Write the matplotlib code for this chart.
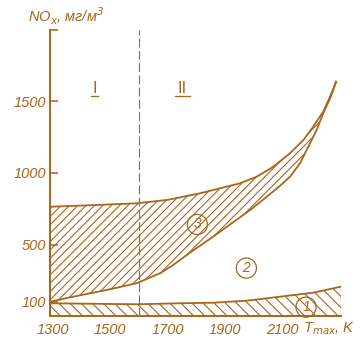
import numpy as np
import matplotlib
matplotlib.use("Agg")
import matplotlib.pyplot as plt

# colour of the printed drawing
brown = "#A8651C"
fonts = ["Liberation Sans Narrow", "Liberation Sans", "DejaVu Sans"]
plt.rcParams["font.family"] = fonts
plt.rcParams["font.style"] = "italic"
plt.rcParams["mathtext.default"] = "it"
plt.rcParams["hatch.linewidth"] = 0.8

# curve 3: upper and lower border (T, K -> NOx, mg/m3)
t_up = [1290, 1450, 1592, 1700, 1813, 1883, 1953, 2011, 2069, 2127, 2174, 2208, 2243, 2267, 2288]
v_up = [764, 776, 788, 812, 858, 893, 928, 974, 1044, 1138, 1231, 1324, 1429, 1534, 1638]
t_low = [1290, 1371, 1488, 1592, 1674, 1720, 1767, 1867, 1994, 2046, 2092, 2127, 2162, 2197, 2220, 2243, 2267, 2288]
v_low = [100, 135, 182, 229, 299, 357, 427, 566, 750, 834, 910, 974, 1068, 1208, 1301, 1417, 1522, 1638]

# band 1: upper border
t_band = [1290, 1592, 1743, 1860, 1976, 2092, 2208, 2305]
v_band = [89, 82, 89, 93, 107, 135, 163, 205]

t_split = 1600
yticks = [100, 500, 1000, 1500, 2000]
ytick_labels = ["100", "500", "1000", "1500", ""]
xticks = [1300, 1500, 1700, 1900, 2100]

zones = ["I", "II"]
zone_t = [1445, 1752]
zone_v = 1558

circ_labels = ["1", "2", "3"]
circ_t = [2183, 1975, 1804]
circ_v = [62, 335, 640]

fig = plt.figure(figsize=(3.64, 3.53), dpi=100)
ax = fig.add_axes([50 / 364, 37 / 353, 291 / 364, 286 / 353])

# hatched areas
ax.fill(np.concatenate([t_up, t_low[::-1]]), np.concatenate([v_up, v_low[::-1]]),
        facecolor="none", edgecolor=brown, hatch="////", lw=0)
ax.fill_between(t_band, 0, v_band, facecolor="none", edgecolor=brown, hatch="\\\\\\", lw=0)

ax.plot(t_up, v_up, color=brown, lw=1.3)
ax.plot(t_low, v_low, color=brown, lw=1.3)
ax.plot(t_band, v_band, color=brown, lw=1.3)
ax.plot([t_band[-1], t_band[-1]], [0, v_band[-1]], color=brown, lw=0.9)
ax.axvline(t_split, color=brown, lw=0.8, ls=(0, (8, 3)))

for name, t in zip(zones, zone_t):
    ax.text(t, zone_v, name, color=brown, fontsize=12, style="normal",
            ha="center", va="baseline")
    ax.plot([t - 13 * len(name), t + 13 * len(name)], [zone_v - 18, zone_v - 18],
            color=brown, lw=0.9)

for lab, t, v in zip(circ_labels, circ_t, circ_v):
    ax.text(t, v, lab, color=brown, fontsize=10, ha="center", va="center",
            bbox=dict(boxstyle="circle,pad=0.22", fc="none", ec=brown, lw=0.9))

ax.set_xlim(1290, 2305)
ax.set_ylim(0, 2000)
ax.set_yticks(yticks)
ax.set_yticklabels(ytick_labels)
ax.set_xticks(xticks)
ax.tick_params(axis="y", direction="in", length=6, width=1.1, color=brown, pad=3,
               labelcolor=brown, labelsize=10.5)
ax.tick_params(axis="x", length=0, pad=5, labelcolor=brown, labelsize=10.5)

for s in ["top", "right"]:
    ax.spines[s].set_visible(False)
for s in ["left", "bottom"]:
    ax.spines[s].set_color(brown)
    ax.spines[s].set_linewidth(1.4)

fig.text(28 / 364, 331 / 353, r"NO$_x$, мг/м$^3$", color=brown, fontsize=10.5)
fig.text(303 / 364, 21 / 353, r"T$_{max}$, K", color=brown, fontsize=10.5)

fig.savefig("out.png", dpi=100)
